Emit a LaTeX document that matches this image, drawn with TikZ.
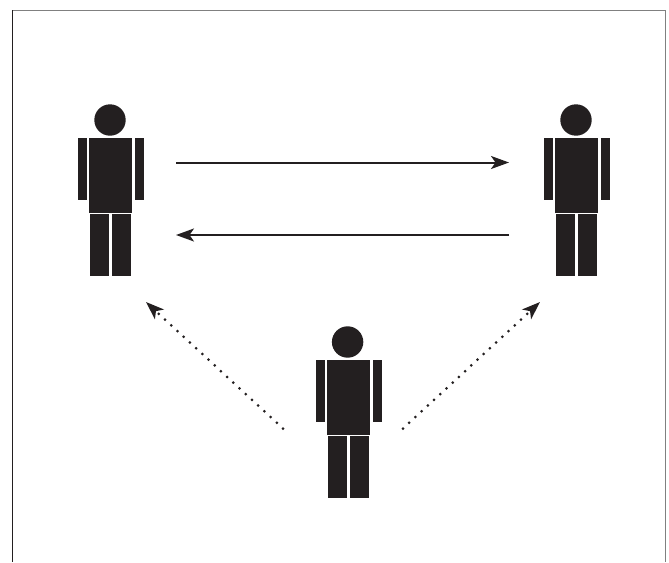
\documentclass[tikz,border=0pt]{standalone}
\usetikzlibrary{arrows.meta}
\definecolor{ink}{HTML}{231F20}
\definecolor{framegray}{HTML}{808080}
\tikzset{
  x=1pt,y=-1pt,
  solidarrow/.style={draw=ink,line width=2pt,-{Stealth[length=18pt,width=13pt,inset=4.5pt]}},
  dotarrow/.style={draw=ink,line width=3pt,line cap=round,dash pattern=on 0pt off 8.45pt,
    -{Stealth[length=18pt,width=13pt,inset=4.5pt,line cap=butt,sep=0pt]}},
  person/.pic={
    \fill[ink] (110,120) circle[radius=15.7];
    \fill[ink] (89,138) rectangle (132,212.7);
    \fill[ink] (78,138) rectangle (87,200);
    \fill[ink] (135,138) rectangle (144,200);
    \fill[ink] (90,214) rectangle (109,275.7);
    \fill[ink] (112,214) rectangle (131,275.7);
  }
}
\begin{document}
\begin{tikzpicture}
\useasboundingbox (0,0) rectangle (669,562);
\fill[white] (0,0) rectangle (669,562);
\draw[framegray,line width=1pt] (12,10.5) -- (665.5,10.5) -- (665.5,562);
\draw[ink,line width=1.2pt] (12.5,10) -- (12.5,562);
\pic (left) at (0,0) {person};
\pic (right) at (466,0) {person};
\pic (bottom) at (237.6,222) {person};
\coordinate (topa) at (176,162.5);
\coordinate (topb) at (509,162.5);
\coordinate (bota) at (509,235);
\coordinate (botb) at (176,235);
\coordinate (dla) at (283,428.5);
\coordinate (dlb) at (146,302);
\coordinate (dra) at (403,428.5);
\coordinate (drb) at (540,302);
\draw[solidarrow] (topa) -- (topb);
\draw[solidarrow] (bota) -- (botb);
\draw[dotarrow] (dla) -- (dlb);
\draw[dotarrow] (dra) -- (drb);
\end{tikzpicture}
\end{document}
